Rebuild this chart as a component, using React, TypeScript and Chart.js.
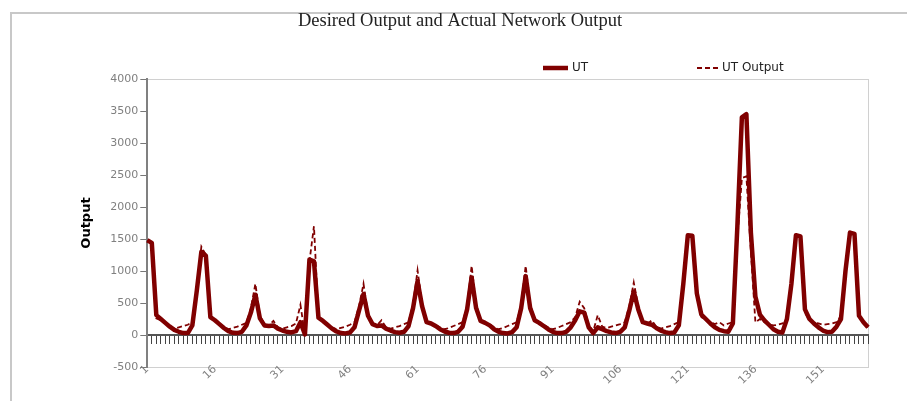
import { useEffect, useRef } from 'react';
import { Chart, registerables } from 'chart.js';
Chart.register(...registerables);

const chartTitle = 'Desired Output and Actual Network Output';
const yAxisTitle = 'Output';
const categories: string[] = Array.from({ length: 161 }, (_, i) => String(i + 1));
const xTickLabels = ['1', '16', '31', '46', '61', '76', '91', '106', '121', '136', '151'];

const utValues = [
  1480, 1440, 310, 250, 190, 130, 80, 50, 30, 30, 150, 700,
  1300, 1240, 280, 230, 170, 110, 60, 35, 30, 50, 150, 350,
  630, 260, 150, 140, 150, 100, 70, 50, 40, 60, 200, 10,
  1180, 1150, 270, 220, 160, 100, 55, 30, 25, 40, 120, 380,
  640, 300, 170, 140, 150, 100, 70, 45, 35, 50, 140, 420,
  840, 450, 200, 180, 140, 90, 55, 35, 30, 50, 130, 400,
  900, 420, 220, 190, 150, 90, 50, 30, 25, 45, 120, 420,
  920, 420, 230, 190, 140, 90, 50, 30, 30, 50, 120, 230,
  370, 350, 120, 30, 120, 90, 60, 40, 30, 50, 120, 380,
  680, 400, 200, 180, 160, 110, 70, 45, 30, 40, 150, 800,
  1560, 1550, 650, 320, 250, 180, 120, 80, 60, 50, 180, 1700,
  3400, 3450, 1600, 600, 320, 230, 160, 90, 50, 40, 250, 800,
  1560, 1540, 400, 250, 180, 120, 70, 45, 50, 130, 250, 1000,
  1600, 1580, 300, 200, 120,
];

const utOutputValues = [
  1480, 1420, 260, 230, 190, 140, 100, 120, 140, 160, 200, 760,
  1380, 1250, 260, 220, 180, 130, 90, 110, 130, 160, 190, 420,
  800, 300, 170, 150, 220, 120, 100, 120, 140, 180, 470, 0,
  1150, 1700, 280, 210, 170, 120, 90, 110, 130, 160, 200, 450,
  800, 330, 180, 150, 230, 120, 100, 120, 140, 170, 200, 480,
  1010, 500, 220, 170, 160, 120, 90, 110, 140, 170, 200, 450,
  1080, 480, 230, 180, 170, 120, 90, 110, 140, 170, 200, 470,
  1080, 480, 240, 180, 160, 120, 90, 110, 140, 170, 200, 280,
  520, 420, 150, 60, 310, 130, 110, 130, 150, 170, 200, 450,
  820, 450, 200, 170, 230, 130, 100, 120, 140, 170, 200, 820,
  1560, 1540, 600, 280, 230, 200, 170, 200, 150, 180, 200, 1500,
  2450, 2480, 1300, 200, 250, 200, 170, 150, 160, 180, 220, 750,
  1560, 1520, 350, 230, 200, 180, 160, 170, 180, 200, 300, 950,
  1600, 1560, 280, 190, 120,
];

const LINE_COLOR = '#800000';
const legendX = [543, 697];
const legendY = 68;

export default function App() {
  const ref = useRef<HTMLCanvasElement>(null);

  useEffect(() => {
    const canvas = ref.current;
    if (!canvas) return;

    const decor = {
      id: 'decor',
      beforeDraw(chart: any) {
        const { ctx, chartArea: a } = chart;
        ctx.save();
        ctx.strokeStyle = '#d0d0d0';
        ctx.lineWidth = 1;
        ctx.strokeRect(Math.round(a.left) + 0.5, Math.round(a.top) + 0.5, Math.round(a.right - a.left), Math.round(a.bottom - a.top));
        ctx.restore();
      },
      afterDraw(chart: any) {
        const { ctx } = chart;
        ctx.save();
        ctx.fillStyle = '#222';
        ctx.font = '18.5px "Liberation Serif"';
        ctx.textAlign = 'center';
        ctx.textBaseline = 'middle';
        ctx.fillText(chartTitle, 460, 21);

        chart.data.datasets.forEach((ds: any, i: number) => {
          const x0 = legendX[i];
          ctx.beginPath();
          ctx.strokeStyle = ds.borderColor;
          ctx.lineWidth = ds.borderWidth;
          ctx.setLineDash(ds.borderDash || []);
          const len = ds.borderDash ? 21 : 25;
          ctx.moveTo(x0, legendY);
          ctx.lineTo(x0 + len, legendY);
          ctx.stroke();
          ctx.setLineDash([]);
          ctx.fillStyle = '#222';
          ctx.font = '12px "DejaVu Sans"';
          ctx.textAlign = 'left';
          ctx.fillText(ds.label, x0 + len + 4, legendY);
        });
        ctx.restore();
      },
    };

    const chart = new Chart(canvas, {
      type: 'line',
      data: {
        labels: categories,
        datasets: [
          {
            label: 'UT',
            data: utValues,
            borderColor: LINE_COLOR,
            borderWidth: 4.5,
            pointRadius: 0,
            tension: 0,
            order: 1,
            borderJoinStyle: 'round',
          },
          {
            label: 'UT Output',
            data: utOutputValues,
            borderColor: LINE_COLOR,
            borderWidth: 1.8,
            borderDash: [5, 3],
            pointRadius: 0,
            tension: 0,
            order: 0,
          },
        ],
      },
      options: {
        animation: false,
        responsive: false,
        layout: { padding: { left: 75, top: 79, right: 39, bottom: 34 } },
        plugins: {
          legend: { display: false },
          title: { display: false },
          tooltip: { enabled: false },
        },
        scales: {
          x: {
            type: 'category',
            axis: 'x',
            position: { y: -265 },
            offset: false,
            grid: { display: false },
            border: { display: false },
            ticks: {
              autoSkip: false,
              minRotation: 45,
              maxRotation: 45,
              padding: 3,
              color: '#7f7f7f',
              font: { family: 'DejaVu Sans', size: 11 },
              callback: (_v: any, idx: number) => (xTickLabels.includes(categories[idx]) ? categories[idx] : ''),
            },
          },
          xTicks: {
            type: 'category',
            axis: 'x',
            position: { y: 0 },
            offset: false,
            grid: { display: true, drawOnChartArea: false, drawTicks: true, tickLength: 8, color: '#444', lineWidth: 1 },
            border: { display: true, color: '#555', width: 2 },
            ticks: { display: false, autoSkip: false },
          },
          y: {
            min: -500,
            max: 4000,
            afterFit: (s: any) => { s.width = 72.3; },
            ticks: {
              stepSize: 500,
              padding: 2,
              color: '#808080',
              font: { family: 'DejaVu Sans', size: 11 },
              callback: (v: any) => String(v),
            },
            grid: { drawOnChartArea: false, drawTicks: true, tickLength: 7, color: '#777', lineWidth: 1 },
            border: { display: true, color: '#808080', width: 2 },
            title: {
              display: true,
              text: yAxisTitle,
              color: '#000',
              font: { family: 'DejaVu Sans', size: 13, weight: 'bold' },
              padding: { top: 4, bottom: 4 },
            },
          },
        },
      } as any,
      plugins: [decor],
    });
    return () => chart.destroy();
  }, []);

  return (
    <div style={{ position: 'fixed', left: 0, top: 0, width: 907, height: 401, background: '#fff', overflow: 'hidden' }}>
      <div style={{ position: 'absolute', left: 10, top: 12, width: 1000, height: 1000, borderTop: '2px solid #c8c8c8', borderLeft: '2px solid #c8c8c8' }} />
      <canvas ref={ref} width={907} height={401} style={{ position: 'absolute', left: 0, top: 0 }} />
    </div>
  );
}
